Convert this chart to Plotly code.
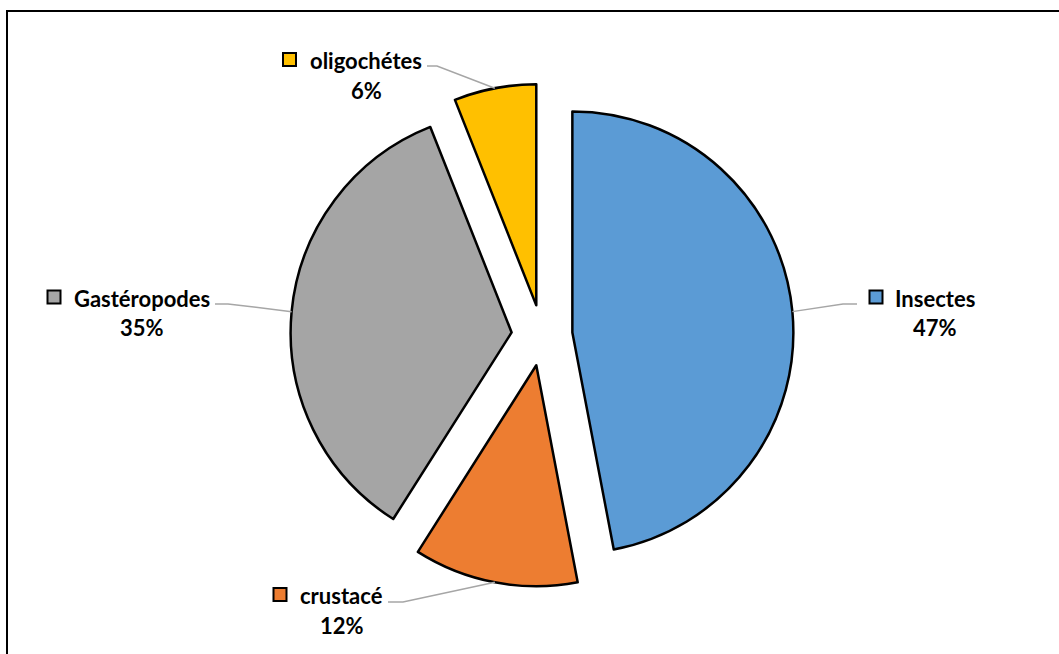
import math
import plotly.graph_objects as go

# Composition of the collected fauna (percent)
categories = ["Insectes", "crustacé", "Gastéropodes", "oligochétes"]
shares = [47, 12, 35, 6]
colors = ["#5B9BD5", "#ED7D31", "#A5A5A5", "#FFC000"]

W, H = 1059, 654
PULL = 0.138
DOMAIN_X = [290.5 / W, 793.5 / W]
DOMAIN_Y = [1 - 586.8 / H, 1 - 83.8 / H]

# Label placement (pixels): name-centre x, first-line centre y,
# key-square centre, leader start and elbow
label_layout = {
    "Insectes":     dict(tx=935.0, ty=298.0, key=(876.0, 297.0), start=(857, 304), elbow=(843, 304)),
    "crustacé":     dict(tx=341.5, ty=595.0, key=(280.0, 594.5), start=(388, 602), elbow=(403, 602)),
    "Gastéropodes": dict(tx=141.5, ty=298.0, key=(54.0, 297.0), start=(215, 304), elbow=(228, 304)),
    "oligochétes":  dict(tx=366.0, ty=60.0, key=(289.5, 59.5), start=(427, 66), elbow=(437, 66)),
}
LINE_GAP = 30
FONT = dict(family="Lato, 'Open Sans', sans-serif", size=22, color="#000000")


def px(x):
    return x / W


def py(y):
    return 1 - y / H


fig = go.Figure(
    go.Pie(
        labels=categories,
        values=shares,
        marker=dict(colors=colors, line=dict(color="#000000", width=2.5)),
        pull=[PULL] * len(shares),
        sort=False,
        direction="clockwise",
        rotation=0,
        textinfo="none",
        hoverinfo="label+percent",
        showlegend=False,
        domain=dict(x=DOMAIN_X, y=DOMAIN_Y),
    )
)

# Pie geometry in pixels, following plotly's own sizing rule
box_w = W * (DOMAIN_X[1] - DOMAIN_X[0])
box_h = H * (DOMAIN_Y[1] - DOMAIN_Y[0])
radius = min(box_w, box_h) / 2 / (1 + PULL)
cx = W * (DOMAIN_X[0] + DOMAIN_X[1]) / 2
cy = H * (1 - DOMAIN_Y[0]) - box_h / 2

shapes = []
annotations = []
total = sum(shares)
before = 0
for name, value, color in zip(categories, shares, colors):
    mid = 2 * math.pi * (before + value / 2) / total
    before += value
    dx, dy = math.sin(mid), -math.cos(mid)
    # centre of the pulled-out slice, then the point on its arc at the bisector
    sx, sy = cx + PULL * radius * dx, cy + PULL * radius * dy
    ax, ay = sx + radius * dx, sy + radius * dy

    lay = label_layout[name]
    (x0, y0), (x1, y1) = lay["start"], lay["elbow"]
    shapes.append(dict(
        type="path", xref="paper", yref="paper",
        path=f"M {px(x0)},{py(y0)} L {px(x1)},{py(y1)} L {px(ax)},{py(ay)}",
        line=dict(color="#A6A6A6", width=1.5),
    ))
    kx, ky = lay["key"]
    half = 6.5
    shapes.append(dict(
        type="rect", xref="paper", yref="paper",
        x0=px(kx - half), x1=px(kx + half), y0=py(ky + half), y1=py(ky - half),
        fillcolor=color, line=dict(color="#000000", width=2),
    ))
    annotations.append(dict(
        text=f"<b>{name}</b>", x=px(lay["tx"]), y=py(lay["ty"]),
        xref="paper", yref="paper", xanchor="center", yanchor="middle",
        showarrow=False, font=FONT,
    ))
    annotations.append(dict(
        text=f"<b>{value}%</b>", x=px(lay["tx"]), y=py(lay["ty"] + LINE_GAP),
        xref="paper", yref="paper", xanchor="center", yanchor="middle",
        showarrow=False, font=FONT,
    ))

# Chart-area frame
shapes.append(dict(
    type="rect", xref="paper", yref="paper",
    x0=px(7), x1=px(W + 10), y0=py(H + 10), y1=py(11),
    line=dict(color="#000000", width=2), fillcolor="rgba(0,0,0,0)", layer="below",
))

fig.update_layout(
    width=W,
    height=H,
    margin=dict(l=0, r=0, t=0, b=0),
    paper_bgcolor="#FFFFFF",
    plot_bgcolor="#FFFFFF",
    shapes=shapes,
    annotations=annotations,
)

fig.write_html("out.html")
